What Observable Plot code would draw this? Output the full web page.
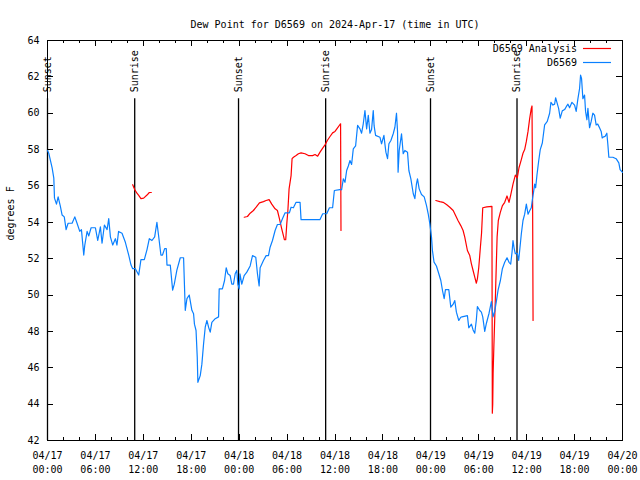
<!DOCTYPE html>
<html><head><meta charset="utf-8">
<script src="https://cdn.jsdelivr.net/npm/d3@7"></script>
<script src="https://cdn.jsdelivr.net/npm/@observablehq/plot@0.6"></script>
<style>body{margin:0;background:#fff}</style>
</head><body><div id="chart"></div>
<script>
// Hours are counted from 2024-04-17 00:00 UTC
const title = "Dew Point for D6569 on 2024-Apr-17 (time in UTC)";
const yLabel = "degrees F";
const seriesNames = ["D6569 Analysis", "D6569"];
const seriesColors = ["#ff0000", "#0a80ff"];
const xTicks = [0, 6, 12, 18, 24, 30, 36, 42, 48, 54, 60, 66, 72];
const xMinorTicks = d3.range(0, 73, 2);
const xTickLabels = ["04/17\n00:00","04/17\n06:00","04/17\n12:00","04/17\n18:00","04/18\n00:00","04/18\n06:00","04/18\n12:00","04/18\n18:00","04/19\n00:00","04/19\n06:00","04/19\n12:00","04/19\n18:00","04/20\n00:00"];
const yTicks = [42, 44, 46, 48, 50, 52, 54, 56, 58, 60, 62, 64];
const eventHours = [0, 10.92, 23.92, 34.83, 47.96, 58.79];
const eventNames = ["Sunset", "Sunrise", "Sunset", "Sunrise", "Sunset", "Sunrise"];

// D6569 observations
const obsHours = [0,0.17,0.58,0.79,0.875,1.125,1.33,1.6,1.83,2.1,2.33,2.58,3.08,3.42,3.7,4.04,4.25,4.54,4.67,4.96,5.17,5.46,6.0,6.29,6.625,6.83,7.125,7.46,7.67,7.875,8.17,8.5,8.7,8.9,9.33,9.75,10.17,10.46,10.67,11.0,11.42,11.7,12.125,12.46,12.75,13.08,13.42,13.7,13.9,14.2,14.4,14.67,14.875,14.96,15.375,15.67,15.875,16.2,16.625,17.04,17.25,17.46,17.75,18.08,18.29,18.4,18.6,18.75,18.83,19.125,19.33,19.54,19.75,19.96,20.17,20.375,20.58,21.0,21.42,21.5,21.9,22.17,22.375,22.58,22.875,23.08,23.29,23.5,23.7,23.83,24.0,24.1,24.33,24.625,24.96,25.375,25.67,26.08,26.29,26.5,26.625,27.04,27.375,27.67,27.875,28.17,28.5,28.79,29.125,29.42,29.75,30.29,30.5,30.79,31.125,31.625,31.75,34.125,34.46,34.96,35.3,35.7,35.92,36.6,36.83,37.04,37.25,37.46,37.67,37.875,38.08,38.29,38.58,38.83,39.125,39.33,39.54,39.75,39.96,40.17,40.375,40.58,40.79,40.9,41.08,41.625,41.83,42.125,42.25,42.375,42.58,42.75,43.0,43.29,43.5,43.7,43.83,43.9,44.04,44.33,44.54,44.75,45.08,45.25,45.5,45.8,46.0,46.2,46.33,46.54,46.83,47.17,47.46,47.67,47.875,48.08,48.2,48.4,48.7,49.0,49.25,49.46,49.67,49.83,50.25,50.5,50.8,51.0,51.2,51.5,51.75,51.9,52.58,52.75,53.08,53.29,53.5,53.7,53.83,54.125,54.33,54.5,54.75,54.96,55.29,55.58,55.79,56.0,56.2,56.42,56.71,56.96,57.25,57.54,57.79,58.0,58.17,58.29,58.42,58.58,58.7,58.83,59.0,59.125,59.33,59.54,59.75,59.96,60.17,60.375,60.58,60.7,60.875,61.0,61.125,61.29,61.5,61.7,61.96,62.25,62.58,62.875,63.04,63.29,63.5,63.625,63.79,64.0,64.2,64.46,64.75,64.96,65.17,65.375,65.67,66.0,66.2,66.42,66.625,66.75,66.875,67.04,67.25,67.375,67.54,67.67,67.875,68.08,68.29,68.5,68.7,68.9,69.125,69.33,69.46,69.625,69.83,70.04,70.17,70.29,70.79,71.2,71.54,71.7,72];
const obsValues = [57.95,57.78,56.99,56.43,55.33,55.0,55.4,54.9,54.4,54.3,53.6,53.95,53.95,54.3,53.95,53.5,53.6,52.2,52.75,53.5,53.25,53.7,53.7,53.0,53.75,52.85,53.85,53.6,54.2,53.2,52.75,53.1,52.75,53.5,53.4,52.9,52.2,51.65,51.45,51.45,51.1,51.95,51.95,52.5,53.1,53.0,53.2,54.0,53.3,52.2,52.2,52.55,52.55,51.65,51.65,50.27,50.6,51.37,52.05,52.05,49.16,49.8,50.0,49.16,48.97,48.4,48.05,46.6,45.2,45.57,46.2,47.3,48.23,48.6,48.23,47.96,48.5,48.7,48.8,50.34,50.34,50.8,51.5,51.17,51.07,50.6,50.6,51.17,51.35,50.6,50.34,51.17,50.6,51.07,51.26,51.6,52.17,52.08,51.17,50.5,51.5,51.9,52.17,52.17,52.63,53.0,53.55,53.88,53.88,54.2,54.52,54.52,54.83,54.8,55.1,55.1,54.15,54.15,54.47,54.47,54.8,54.8,55.75,55.8,55.79,56.39,56.2,56.85,57.1,57.4,57.18,58.04,58.2,59.33,59.14,58.9,59.42,60.15,59.14,59.88,58.9,59.1,60.15,59.3,58.78,58.68,58.32,58.78,58.3,57.86,57.5,58.32,58.5,58.87,59.23,60.0,59.0,56.76,57.95,58.87,57.77,57.95,57.86,56.85,56.39,55.57,55.3,56.12,56.39,55.84,55.53,55.4,54.92,54.47,53.92,53.2,52.45,51.81,51.6,51.17,50.8,50.25,49.8,50.3,50.3,49.33,49.5,49.7,49.06,48.6,48.78,48.8,48.87,48.2,48.4,48.08,47.9,48.64,49.37,49.15,49.06,48.8,48.0,48.45,49.0,49.64,48.8,49.1,49.64,50.27,50.8,51.45,51.8,52.05,51.8,51.7,52.36,53.0,52.6,52.27,52.3,52.3,51.9,52.45,53.36,54.1,54.45,55.0,54.45,54.64,54.8,55.2,55.7,56.1,55.9,56.6,57.36,58.0,58.36,59.36,59.55,60.0,60.6,60.45,60.5,60.85,60.6,60.27,59.73,60.13,60.2,60.36,60.5,60.3,60.6,60.45,60.1,60.8,61.36,62.1,61.9,60.8,61.0,60.1,59.64,60.27,59.2,59.55,60.0,59.9,59.36,59.4,59.2,59.0,58.64,58.7,58.73,58.9,58.27,57.58,57.58,57.5,57.27,56.9,56.75];

// D6569 Analysis, three separate runs
const ana1Hours = [10.67,10.92,11.2,11.42,11.7,12.04,12.46,12.75,13.0];
const ana1Values = [56.07,55.8,55.6,55.48,55.3,55.33,55.5,55.64,55.64];
const ana2Hours = [24.625,25.04,25.375,25.79,26.125,26.54,27.04,27.375,27.75,28.08,28.5,28.79,29.04,29.33,29.54,29.67,29.83,29.96,30.1,30.25,30.5,30.625,30.8,31.125,31.42,31.75,32.25,32.67,33.2,33.5,33.83,34.125,34.46,34.75,35.04,35.375,35.7,36.0,36.3,36.625,36.7,36.75];
const ana2Values = [54.28,54.32,54.5,54.65,54.83,55.07,55.14,55.2,55.25,55.0,54.74,54.65,54.2,53.64,53.27,53.04,53.04,53.9,54.65,55.84,56.57,57.5,57.58,57.67,57.77,57.82,57.77,57.67,57.67,57.73,57.64,57.86,58.08,58.26,58.5,58.72,58.92,59.0,59.18,59.38,59.42,53.55];
const ana3Hours = [48.625,49.125,49.54,49.96,50.375,50.8,51.1,51.4,51.75,52.04,52.25,52.58,52.875,53.08,53.29,53.5,53.7,53.83,54.0,54.2,54.35,54.5,55.0,55.65,55.7,55.75,55.8,55.9,56.0,56.1,56.2,56.3,56.45,56.7,56.95,57.25,57.54,57.79,58.0,58.29,58.58,58.83,59.04,59.33,59.54,59.75,59.96,60.17,60.375,60.58,60.67,60.75,60.8];
const ana3Values = [55.2,55.14,55.1,54.98,54.83,54.65,54.37,54.1,53.82,53.55,53.18,52.45,52.17,51.72,51.35,50.98,50.65,50.89,51.5,52.6,53.4,54.8,54.85,54.88,43.5,44.0,45.7,47.3,48.7,50.1,51.7,53.2,54.1,54.55,54.9,55.1,55.45,55.1,55.5,56.1,56.6,56.45,57.0,57.45,57.8,58.0,58.45,59.0,59.7,60.27,60.4,54.45,48.6];

const eventLineTop = 60.8;
const eventLabelY = 61.15;

const obs = obsHours.map((h, i) => ({h, v: obsValues[i]}));
const ana = [[ana1Hours, ana1Values], [ana2Hours, ana2Values], [ana3Hours, ana3Values]]
  .flatMap(([hs, vs], s) => hs.map((h, i) => ({h, v: vs[i], seg: s})));
const events = eventHours.map((h, i) => ({h, name: eventNames[i]}));

function ticksMark(index, scales, values, dims) {
  const {width, height, marginLeft, marginRight, marginTop, marginBottom} = dims;
  const x0 = marginLeft, x1 = width - marginRight, y0 = marginTop, y1 = height - marginBottom;
  const g = d3.create("svg:g").attr("stroke", "black").attr("stroke-width", 1).attr("shape-rendering", "crispEdges");
  for (const t of xMinorTicks) {
    const X = Math.round(scales.x(t)) + 0.5;
    const len = xTicks.includes(t) ? 6 : 3;
    g.append("line").attr("x1", X).attr("x2", X).attr("y1", y1).attr("y2", y1 - len);
    g.append("line").attr("x1", X).attr("x2", X).attr("y1", y0).attr("y2", y0 + len);
  }
  for (const t of yTicks) {
    const Y = Math.round(scales.y(t)) + 0.5;
    g.append("line").attr("x1", x0).attr("x2", x0 + 6).attr("y1", Y).attr("y2", Y);
    g.append("line").attr("x1", x1).attr("x2", x1 - 6).attr("y1", Y).attr("y2", Y);
  }
  return g.node();
}

function legendMark(index, scales, values, dims) {
  const {width, marginRight, marginTop} = dims;
  const xr = width - marginRight;
  const g = d3.create("svg:g").attr("font-family", "DejaVu Sans Mono").attr("font-size", 10);
  seriesNames.forEach((name, i) => {
    const cy = marginTop + 9 + i * 14;
    g.append("text").attr("x", xr - 45).attr("y", cy).attr("dy", "0.32em").attr("text-anchor", "end").attr("fill", "black").text(name);
    g.append("line").attr("x1", xr - 39).attr("x2", xr - 11).attr("y1", cy - 0.5).attr("y2", cy - 0.5)
      .attr("stroke", seriesColors[i]).attr("stroke-width", 1.2);
  });
  return g.node();
}

const chart = Plot.plot({
  width: 640,
  height: 480,
  marginLeft: 47,
  marginRight: 18,
  marginTop: 40,
  marginBottom: 40,
  style: {fontFamily: "DejaVu Sans Mono", fontSize: "10px", background: "white", color: "black"},
  x: {domain: [0, 72]},
  y: {domain: [42, 64]},
  marks: [
    Plot.frame({stroke: "black", strokeWidth: 1}),
    ticksMark,
    Plot.axisX({ticks: xTicks, tickFormat: d => xTickLabels[xTicks.indexOf(d)], tickSize: 0, tickPadding: 9, lineHeight: 1.4, label: null}),
    Plot.axisY({ticks: yTicks, tickSize: 0, tickPadding: 8, label: null}),
    Plot.ruleX(events, {x: "h", y1: 42, y2: eventLineTop, stroke: "black", strokeWidth: 1.3}),
    Plot.text(events, {x: "h", y: eventLabelY, text: "name", rotate: -90, textAnchor: "start", lineAnchor: "middle", fill: "black"}),
    Plot.line(ana, {x: "h", y: "v", z: "seg", stroke: seriesColors[0], strokeWidth: 1.2}),
    Plot.line(obs, {x: "h", y: "v", stroke: seriesColors[1], strokeWidth: 1.2}),
    Plot.text([yLabel], {frameAnchor: "left", dx: -37, rotate: -90, text: d => d, fill: "black"}),
    Plot.text([title], {frameAnchor: "top", dy: -20, text: d => d, fill: "black"}),
    legendMark
  ]
});
document.getElementById("chart").appendChild(chart);
</script>
</body></html>
